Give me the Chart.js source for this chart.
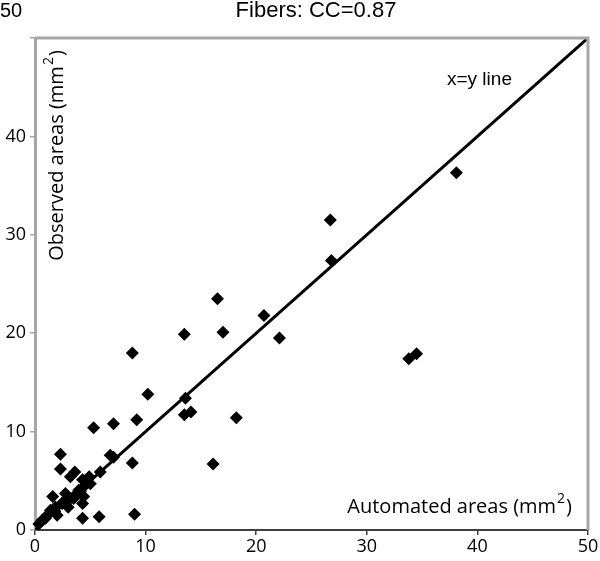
<!DOCTYPE html>
<html>
<head>
<meta charset="utf-8">
<script src="https://cdn.jsdelivr.net/npm/chart.js@4/dist/chart.umd.min.js"></script>
<style>
  html, body { margin: 0; padding: 0; background: #fff; }
  #wrap { width: 600px; height: 561px; position: relative; }
</style>
</head>
<body>
<div id="wrap"><canvas id="fibers-chart"></canvas></div>
<script>
// Automated (x) vs observed (y) fiber areas, mm2
var automated = [10.2, 13.6, 13.5, 14.1, 5.3, 7.1, 9.2, 2.3, 2.3, 6.8, 7.1, 8.8, 3.6, 3.2, 5.9, 4.9, 4.3, 4.3, 5.8, 9.0,
                 1.6, 2.75, 4.4, 4.3, 3.65, 3.05, 2.45, 1.85, 2.0, 1.1, 0.65, 0.35, 4.4, 5.0, 3.95, 1.4, 0.95,
                 8.8, 16.5, 13.5, 17.0, 18.2, 20.7, 22.1, 26.7, 26.8, 38.1, 33.8, 34.5, 16.1,
                 2.6, 3.5, 4.1, 1.8, 3.0];
var observed  = [13.8, 13.4, 11.7, 12.0, 10.4, 10.8, 11.2, 7.7, 6.2, 7.6, 7.4, 6.8, 5.9, 5.4, 5.9, 5.4, 5.1, 1.2, 1.35, 1.6,
                 3.4, 3.7, 3.4, 2.7, 3.55, 3.05, 2.7, 2.35, 1.5, 1.5, 1.0, 0.6, 4.4, 4.7, 4.05, 2.0, 1.2,
                 18.0, 23.5, 19.9, 20.1, 11.4, 21.8, 19.5, 31.5, 27.4, 36.3, 17.4, 17.9, 6.7,
                 2.9, 3.2, 3.9, 1.9, 2.3];

// x=y reference line
var lineX = [0, 50];
var lineY = [0, 50];

var axisTicks = [0, 10, 20, 30, 40, 50];

var titleText = 'Fibers: CC=0.87';
var xTitle = 'Automated areas (mm';
var yTitle = 'Observed areas (mm';
var lineLabel = 'x=y line';

var TICK_FONT = '"Open Sans", sans-serif';
var ARIAL = '"Liberation Sans", Arial, sans-serif';

const points = automated.map((v, i) => ({ x: v, y: observed[i] }));
const linePts = lineX.map((v, i) => ({ x: v, y: lineY[i] }));

// helper: text + superscript "2" + ")"
function drawSupText(ctx, base, x, y) {
  ctx.font = '20px ' + TICK_FONT;
  ctx.fillText(base, x, y);
  var w1 = ctx.measureText(base).width;
  ctx.font = '14px ' + TICK_FONT;
  ctx.fillText('2', x + w1 + 1, y - 10);
  var w2 = ctx.measureText('2').width;
  ctx.font = '20px ' + TICK_FONT;
  ctx.fillText(')', x + w1 + w2 + 2, y);
}
function supTextWidth(ctx, base) {
  ctx.font = '20px ' + TICK_FONT;
  var w = ctx.measureText(base).width + ctx.measureText(')').width;
  ctx.font = '14px ' + TICK_FONT;
  return w + ctx.measureText('2').width + 3;
}

const extras = {
  id: 'extras',
  afterDraw(chart) {
    const ctx = chart.ctx;
    const a = chart.chartArea;
    ctx.save();
    // grey frame on top and right
    ctx.strokeStyle = '#a6a6a6';
    ctx.lineWidth = 3;
    ctx.beginPath();
    ctx.moveTo(a.left, a.top);
    ctx.lineTo(a.right, a.top);
    ctx.lineTo(a.right, a.bottom);
    ctx.stroke();

    ctx.fillStyle = '#000';

    // chart title
    ctx.font = '22px ' + ARIAL;
    ctx.textAlign = 'center';
    ctx.textBaseline = 'middle';
    ctx.fillText(titleText, 316, 11);

    // top y tick label sits above the frame
    ctx.font = '20px ' + ARIAL;
    ctx.fillText(String(axisTicks[axisTicks.length - 1]), 11, 11);

    ctx.textBaseline = 'alphabetic';
    ctx.textAlign = 'left';

    // x axis title, inside plot at bottom right
    var wx = supTextWidth(ctx, xTitle);
    drawSupText(ctx, xTitle, 573 - wx, 513);

    // y axis title, rotated
    var wy = supTextWidth(ctx, yTitle);
    ctx.save();
    ctx.translate(63, 155);
    ctx.rotate(-Math.PI / 2);
    drawSupText(ctx, yTitle, -wy / 2, 0);
    ctx.restore();

    // x=y label
    ctx.font = '19px ' + ARIAL;
    ctx.fillText(lineLabel, 447, 85);
    ctx.restore();
  }
};

new Chart(document.getElementById('fibers-chart'), {
  type: 'scatter',
  data: {
    datasets: [{
      label: 'Fibers',
      data: points,
      pointStyle: 'rectRot',
      pointRadius: 6.5,
      pointHoverRadius: 6.5,
      backgroundColor: '#000',
      borderWidth: 0,
      clip: false,
      order: 2,
    }, {
      label: 'x=y',
      data: linePts,
      showLine: true,
      pointRadius: 0,
      borderColor: '#000',
      borderWidth: 3,
      order: 1,
    }],
  },
  options: {
    responsive: true,
    maintainAspectRatio: false,
    animation: false,
    layout: { padding: { left: 0, right: 12, top: 38, bottom: 0 } },
    plugins: {
      legend: { display: false },
      tooltip: { enabled: false },
      title: { display: false },
    },
    scales: {
      x: {
        type: 'linear',
        min: 0, max: 50,
        afterBuildTicks: (s) => { s.ticks = axisTicks.map(v => ({ value: v })); },
        afterFit: (s) => { s.height = 31; },
        ticks: { color: '#000', font: { family: TICK_FONT, size: 18 }, padding: 1, maxRotation: 0 },
        grid: { drawOnChartArea: false, tickLength: 5, color: '#404040', lineWidth: 1.5 },
        border: { color: '#404040', width: 2 },
      },
      y: {
        type: 'linear',
        min: 0, max: 50,
        afterBuildTicks: (s) => { s.ticks = axisTicks.map(v => ({ value: v })); },
        afterFit: (s) => { s.width = 35; },
        ticks: {
          color: '#000', font: { family: TICK_FONT, size: 18 }, padding: 4,
          callback: (v) => v === 50 ? '' : v,
        },
        grid: { drawOnChartArea: false, tickLength: 5, color: '#a6a6a6', lineWidth: 1.5 },
        border: { color: '#a6a6a6', width: 3 },
      },
    },
  },
  plugins: [extras],
});
</script>
</body>
</html>
